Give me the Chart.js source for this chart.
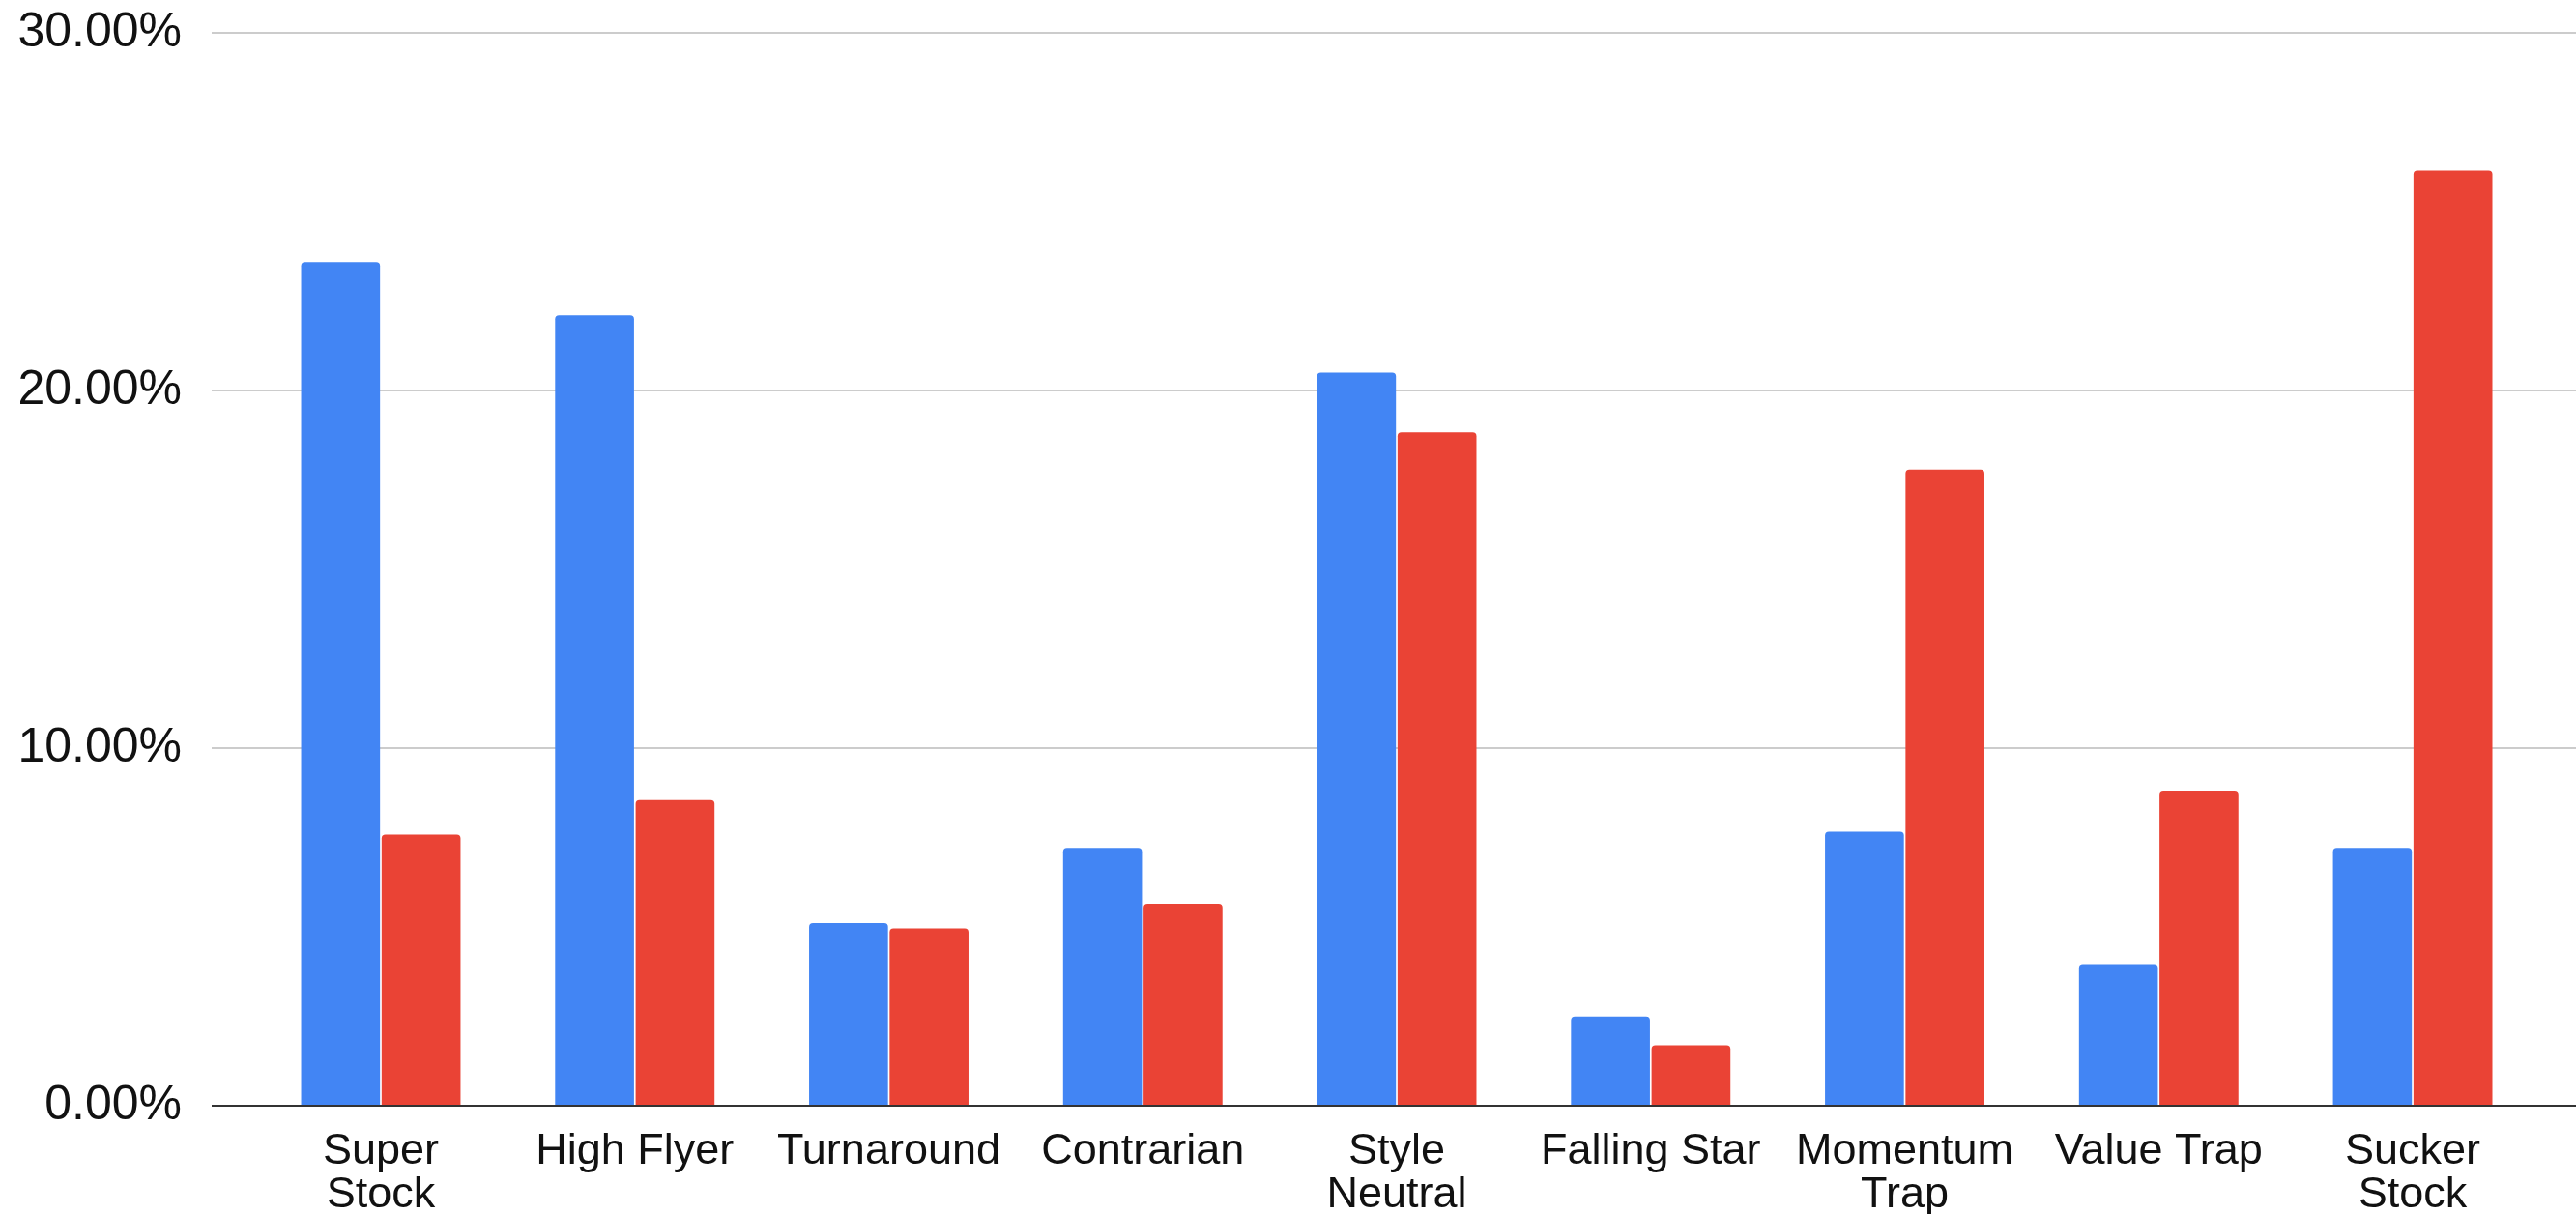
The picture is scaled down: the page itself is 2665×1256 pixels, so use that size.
<!DOCTYPE html>
<html>
<head>
<meta charset="utf-8">
<title>Style buckets</title>
<script src="https://cdn.jsdelivr.net/npm/chart.js@4.4.1/dist/chart.umd.min.js"></script>
<style>
  html, body { margin: 0; padding: 0; background: #fff; overflow: hidden; }
  #wrap { width: 2665px; height: 1256px; position: relative; }
</style>
</head>
<body>
<div id="wrap"><canvas id="chart"></canvas></div>
<script>
// Categories (multi-line ones are split the way the reference wraps them).
const categories = [
  ["Super", "Stock"], "High Flyer", "Turnaround", "Contrarian",
  ["Style", "Neutral"], "Falling Star", ["Momentum", "Trap"], "Value Trap",
  ["Sucker", "Stock"],
];

// Values in percent.
const blueValues = [23.59, 22.10, 5.11, 7.21, 20.50, 2.49, 7.66, 3.96, 7.21];
const redValues  = [7.58, 8.55, 4.96, 5.65, 18.83, 1.69, 17.79, 8.81, 26.15];

const yTicks = [0, 10, 20, 30];

const BLUE = "#4285f4";
const RED = "#ea4335";

// Bars sit on a linear x axis at 0..8 so the plot can keep the
// reference's uneven left/right margins.
const toPoints = (vals) => vals.map((v, i) => ({ x: i, y: v }));

new Chart(document.getElementById("chart"), {
  type: "bar",
  data: {
    datasets: [
      {
        label: "Series 1",
        data: toPoints(blueValues),
        backgroundColor: BLUE,
        borderRadius: { topLeft: 4, topRight: 4 },
        borderSkipped: "bottom",
        categoryPercentage: 0.634,
        barPercentage: 0.98,
      },
      {
        label: "Series 2",
        data: toPoints(redValues),
        backgroundColor: RED,
        borderRadius: { topLeft: 4, topRight: 4 },
        borderSkipped: "bottom",
        categoryPercentage: 0.634,
        barPercentage: 0.98,
      },
    ],
  },
  options: {
    responsive: true,
    maintainAspectRatio: false,
    animation: false,
    layout: { padding: { top: 34, right: 0, left: 0, bottom: 0 } },
    plugins: { legend: { display: false }, tooltip: { enabled: false } },
    scales: {
      x: {
        type: "linear",
        offset: false,
        min: -0.666,
        max: 8.643,
        grid: { display: false },
        border: { display: false },
        afterBuildTicks: (axis) => {
          axis.ticks = categories.map((_, i) => ({ value: i }));
        },
        afterFit: (axis) => {
          axis.height = 112;
          axis.paddingLeft = 0;
          axis.paddingRight = 0;
        },
        ticks: {
          autoSkip: false,
          maxRotation: 0,
          padding: 18,
          color: "#111",
          font: { family: "'Liberation Sans', Arial, sans-serif", size: 45, lineHeight: 0.98 },
          callback: (value) => categories[value],
        },
      },
      y: {
        min: 0,
        max: 30,
        afterBuildTicks: (axis) => {
          axis.ticks = yTicks.map((v) => ({ value: v }));
        },
        afterFit: (axis) => {
          axis.width = 219;
          axis.paddingTop = 0;
          axis.paddingBottom = 0;
        },
        grid: {
          drawTicks: false,
          lineWidth: 2,
          color: (ctx) => (ctx.tick && ctx.tick.value === 0 ? "#333333" : "#cccccc"),
        },
        border: { display: false },
        ticks: {
          padding: 31,
          color: "#111",
          font: { family: "'Liberation Sans', Arial, sans-serif", size: 50 },
          callback: (v) => v.toFixed(2) + "%",
        },
      },
    },
  },
});
</script>
</body>
</html>
